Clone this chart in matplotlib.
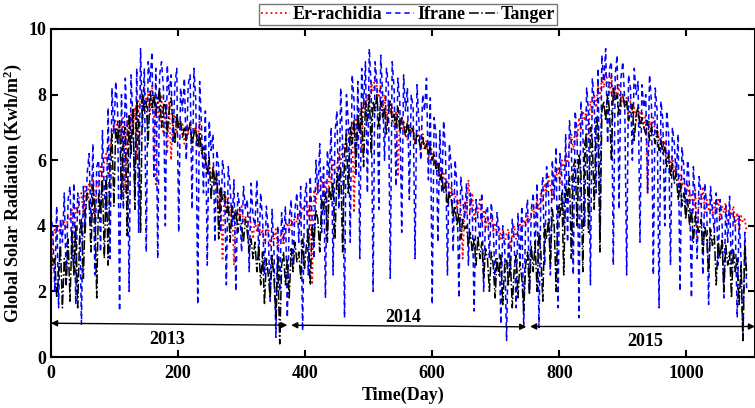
import numpy as np
import matplotlib
matplotlib.use("Agg")
import matplotlib.pyplot as plt

plt.rcParams['font.family'] = ['Liberation Serif', 'DejaVu Serif']
plt.rcParams['font.weight'] = 'bold'
plt.rcParams['mathtext.default'] = 'regular'

# day index (every 3rd day, 2013-2015)
days = list(range(0, 1096, 3))

er_rachidia = [
    2.1, 3.7, 3.9, 3.6, 4.0, 3.8, 4.2, 4.1, 3.9, 4.3,
    4.2, 4.5, 3.0, 4.6, 4.4, 4.9, 5.0, 4.3, 5.2, 4.8,
    5.3, 5.0, 5.6, 4.2, 5.4, 5.2, 5.8, 5.5, 6.0, 6.2,
    5.6, 6.4, 6.8, 7.0, 7.2, 6.9, 7.1, 6.6, 7.3, 5.0,
    7.2, 6.5, 7.4, 7.0, 7.6, 6.0, 7.8, 8.0, 7.5, 8.2,
    7.8, 8.0, 7.4, 8.3, 7.6, 5.2, 7.9, 7.2, 8.0, 6.8,
    7.5, 6.2, 7.8, 6.0, 7.3, 7.4, 6.8, 7.2, 6.9, 7.1,
    6.5, 7.0, 6.8, 7.2, 6.4, 6.9, 7.0, 6.6, 7.2, 6.3,
    6.0, 6.2, 5.6, 5.9, 5.4, 5.8, 5.2, 5.5, 4.4, 5.0,
    3.0, 5.1, 4.7, 4.9, 4.3, 4.6, 2.8, 4.4, 4.5, 4.2,
    4.6, 4.1, 4.3, 3.9, 4.4, 4.0, 3.6, 4.2, 3.8, 4.1,
    3.7, 3.9, 3.5, 3.8, 4.0, 3.4, 3.7, 3.6, 3.9, 3.3,
    3.6, 3.8, 3.4, 3.9, 4.1, 3.8, 4.2, 4.0, 4.3, 4.1,
    4.4, 4.2, 4.6, 4.5, 4.8, 4.3, 4.9, 2.2, 5.1, 4.7,
    5.3, 5.0, 5.5, 4.9, 5.4, 3.8, 5.7, 5.3, 6.0, 5.6,
    5.8, 6.2, 5.9, 6.5, 6.3, 6.8, 7.0, 6.6, 7.2, 4.4,
    7.3, 7.0, 7.6, 6.2, 7.8, 7.4, 8.0, 7.7, 8.4, 8.1,
    8.6, 8.2, 7.9, 8.3, 7.5, 8.0, 7.2, 7.8, 7.4, 7.6,
    7.0, 7.5, 5.5, 7.3, 6.9, 7.2, 7.0, 6.6, 7.1, 6.8,
    7.0, 6.5, 6.9, 6.7, 6.2, 6.8, 6.4, 6.6, 6.0, 6.5,
    6.2, 5.9, 6.0, 5.5, 5.8, 5.3, 5.6, 5.1, 5.4, 4.8,
    5.2, 4.9, 5.0, 4.5, 4.8, 4.6, 3.0, 4.7, 4.4, 5.4,
    4.5, 5.0, 4.2, 4.6, 4.4, 4.8, 4.1, 4.5, 3.9, 4.3,
    4.0, 4.4, 3.8, 4.1, 3.7, 4.0, 3.6, 3.9, 3.4, 3.8,
    3.9, 3.3, 3.7, 4.0, 3.6, 3.9, 4.1, 3.8, 4.2, 4.0,
    4.3, 4.1, 4.4, 4.6, 4.2, 4.8, 4.5, 5.0, 4.7, 5.3,
    5.0, 5.5, 5.2, 4.8, 5.6, 5.4, 5.8, 5.3, 6.0, 5.7,
    6.2, 5.9, 6.5, 6.8, 6.3, 7.0, 6.6, 7.3, 6.9, 7.5,
    7.2, 7.6, 6.8, 7.8, 7.4, 8.0, 7.6, 8.3, 7.9, 8.5,
    8.2, 8.7, 8.4, 8.0, 8.6, 7.8, 8.2, 7.9, 8.3, 7.6,
    8.0, 7.7, 7.9, 7.4, 7.8, 7.5, 7.6, 7.2, 7.7, 7.3,
    7.5, 7.0, 7.4, 5.0, 7.2, 6.9, 7.3, 6.8, 7.0, 6.6,
    6.8, 6.4, 6.6, 6.0, 6.3, 5.8, 6.1, 5.6, 5.9, 5.4,
    5.6, 5.2, 5.5, 4.9, 5.3, 4.7, 5.0, 4.5, 5.1, 3.6,
    4.9, 4.6, 5.2, 4.4, 4.8, 4.5, 5.0, 4.3, 4.7, 4.4,
    4.8, 4.2, 4.6, 4.4, 4.7, 4.1, 4.5, 4.3, 4.6, 4.0,
    4.4, 3.9, 4.3, 4.1, 4.2, 3.8,
]

ifrane = [
    4.4, 3.8, 2.0, 4.6, 1.5, 4.2, 3.5, 5.0, 2.3, 4.8,
    5.2, 3.0, 5.3, 1.6, 5.0, 4.5, 1.0, 5.2, 3.8, 5.6,
    6.2, 4.0, 6.5, 2.5, 5.8, 6.0, 3.2, 6.9, 5.0, 4.2,
    7.6, 3.0, 8.2, 6.8, 8.4, 7.5, 1.4, 8.0, 4.5, 8.5,
    7.0, 2.0, 8.6, 7.2, 5.0, 8.8, 3.8, 9.4, 7.0, 8.8,
    3.2, 9.0, 8.4, 9.3, 5.5, 8.8, 3.0, 8.6, 9.0, 8.2,
    4.0, 8.9, 8.0, 8.6, 6.5, 8.3, 8.8, 3.8, 8.2, 7.5,
    8.5, 6.0, 8.3, 8.6, 4.5, 8.8, 7.8, 1.6, 8.4, 7.0,
    5.0, 7.5, 2.8, 7.2, 6.3, 6.8, 3.5, 6.3, 5.8, 3.8,
    6.0, 5.5, 2.2, 5.8, 5.2, 4.0, 5.4, 2.0, 5.0, 4.6,
    3.2, 5.2, 4.5, 4.8, 2.6, 5.3, 4.3, 4.0, 5.4, 3.0,
    5.0, 4.2, 2.5, 4.6, 3.8, 1.7, 4.5, 3.2, 0.6, 4.0,
    2.0, 4.4, 3.5, 4.6, 1.2, 4.2, 4.8, 2.8, 4.5, 5.0,
    3.5, 5.2, 0.8, 4.8, 5.3, 2.5, 5.5, 4.2, 3.0, 6.0,
    5.0, 6.5, 3.8, 5.8, 1.8, 6.3, 5.5, 7.0, 2.5, 6.8,
    7.5, 4.5, 8.2, 6.5, 1.2, 8.0, 7.2, 3.5, 8.6, 7.8,
    5.5, 8.4, 3.0, 8.8, 7.6, 9.0, 5.0, 9.4, 8.2, 2.0,
    9.0, 8.4, 4.5, 9.2, 8.0, 6.0, 8.8, 8.3, 2.4, 9.0,
    8.2, 5.2, 8.5, 7.8, 3.8, 8.6, 7.5, 8.2, 4.8, 8.0,
    7.6, 3.0, 8.3, 7.2, 6.0, 8.0, 7.5, 8.5, 5.4, 7.9,
    1.6, 7.3, 6.8, 3.5, 6.9, 5.0, 7.2, 6.2, 2.5, 6.5,
    5.8, 3.2, 6.0, 5.2, 1.8, 5.5, 4.8, 4.2, 5.3, 2.8,
    5.0, 4.5, 1.4, 4.8, 4.2, 3.6, 5.0, 2.0, 4.4, 4.6,
    3.0, 4.7, 4.0, 2.2, 4.4, 3.8, 1.0, 4.0, 3.4, 0.5,
    3.8, 2.5, 4.2, 3.6, 1.5, 4.4, 2.8, 4.6, 0.9, 4.2,
    4.8, 2.0, 4.5, 5.0, 3.2, 5.3, 0.9, 4.8, 5.5, 2.8,
    5.8, 5.0, 2.5, 6.0, 4.8, 6.4, 1.5, 6.2, 5.5, 4.0,
    6.8, 3.5, 7.2, 6.5, 2.5, 7.5, 6.8, 1.2, 7.8, 7.0,
    4.0, 8.2, 7.5, 2.2, 8.5, 7.8, 5.0, 8.8, 3.8, 9.2,
    8.4, 9.4, 6.5, 8.8, 9.0, 2.8, 8.6, 9.2, 4.5, 8.5,
    9.0, 7.8, 2.5, 8.6, 8.2, 6.0, 8.8, 8.0, 8.4, 3.5,
    8.3, 7.6, 8.0, 5.0, 8.6, 7.8, 2.5, 8.2, 7.5, 1.5,
    7.8, 7.2, 4.0, 7.5, 6.8, 2.8, 7.0, 6.5, 5.5, 6.8,
    2.0, 6.4, 5.8, 4.5, 6.0, 5.2, 1.8, 5.8, 4.8, 3.0,
    5.5, 5.0, 2.5, 5.3, 4.6, 1.6, 5.2, 4.5, 3.8, 5.0,
    2.8, 4.8, 4.2, 1.8, 4.6, 3.5, 4.9, 2.5, 4.4, 4.0,
    1.2, 4.3, 3.0, 0.5, 3.8, 2.0,
]

tanger = [
    3.2, 2.8, 3.0, 1.8, 2.6, 3.4, 1.5, 3.0, 2.2, 3.6,
    1.7, 3.8, 2.5, 4.0, 1.5, 3.6, 4.2, 2.4, 4.5, 5.0,
    4.8, 3.2, 5.2, 4.6, 1.8, 5.0, 4.4, 5.4, 3.0, 5.5,
    2.8, 6.0, 6.8, 4.6, 7.0, 6.5, 7.2, 4.8, 6.8, 7.0,
    3.7, 7.4, 6.2, 7.6, 4.5, 7.8, 7.2, 3.8, 8.0, 7.5,
    7.8, 6.5, 8.1, 7.6, 8.0, 7.4, 7.8, 8.2, 7.0, 7.6,
    7.8, 6.8, 7.5, 7.9, 7.2, 6.5, 7.4, 7.0, 7.2, 6.7,
    7.0, 6.6, 6.9, 7.1, 6.5, 6.8, 7.0, 6.4, 6.8, 6.2,
    6.4, 6.0, 5.6, 6.1, 4.8, 5.8, 5.3, 5.6, 3.6, 5.2,
    4.8, 5.0, 4.4, 4.7, 3.5, 4.6, 4.2, 4.5, 3.8, 4.3,
    4.0, 3.5, 4.2, 3.8, 3.2, 3.6, 3.0, 3.5, 2.6, 3.4,
    2.2, 3.2, 1.6, 3.0, 2.5, 1.8, 3.1, 2.4, 1.2, 3.0,
    0.4, 2.8, 3.2, 2.2, 3.0, 1.8, 3.3, 2.6, 3.5, 2.9,
    3.2, 2.4, 3.6, 2.7, 3.4, 3.9, 2.2, 4.0, 3.5, 4.5,
    4.2, 3.2, 4.8, 4.5, 5.0, 3.5, 5.2, 4.8, 5.3, 3.6,
    5.6, 5.0, 5.8, 3.2, 6.2, 6.8, 5.0, 7.0, 6.5, 7.2,
    5.8, 7.4, 6.8, 7.6, 5.8, 7.8, 7.2, 8.0, 6.2, 7.8,
    7.5, 8.0, 7.0, 7.8, 7.3, 7.6, 6.8, 7.5, 7.8, 7.2,
    7.4, 7.0, 7.6, 6.9, 7.3, 7.1, 6.7, 7.2, 6.8, 7.0,
    6.9, 6.5, 6.8, 6.6, 6.4, 6.7, 6.3, 6.5, 6.2, 6.4,
    6.0, 6.2, 5.7, 5.9, 5.4, 5.6, 5.0, 5.3, 4.6, 5.0,
    4.8, 4.3, 4.6, 4.0, 4.4, 3.6, 4.2, 3.9, 4.0, 3.4,
    3.8, 3.2, 3.6, 2.8, 3.7, 3.0, 3.5, 2.4, 3.3, 3.0,
    2.0, 3.2, 2.8, 1.8, 3.0, 2.5, 3.1, 1.6, 2.8, 3.0,
    2.2, 3.0, 1.5, 2.7, 3.1, 1.8, 2.9, 2.4, 1.4, 2.8,
    3.2, 1.9, 3.4, 2.6, 3.5, 2.0, 3.8, 3.2, 1.7, 4.0,
    3.6, 4.2, 2.8, 4.5, 4.0, 2.0, 4.6, 4.3, 5.0, 2.5,
    5.2, 4.8, 5.5, 3.0, 5.8, 6.0, 4.0, 6.2, 5.7, 2.6,
    6.5, 6.8, 3.8, 7.0, 6.6, 4.5, 7.3, 7.0, 3.2, 7.5,
    7.8, 7.2, 8.0, 7.5, 6.0, 8.2, 7.8, 8.0, 7.4, 7.9,
    8.0, 7.6, 7.8, 7.2, 7.5, 7.7, 6.6, 7.4, 7.6, 7.0,
    7.3, 7.0, 6.8, 7.2, 6.6, 7.0, 6.8, 6.5, 6.9, 6.3,
    6.6, 6.2, 6.4, 5.8, 6.2, 5.5, 5.9, 5.3, 5.6, 4.8,
    5.3, 4.6, 5.0, 4.2, 4.8, 4.0, 4.5, 3.5, 4.3, 4.0,
    3.8, 4.2, 3.2, 4.0, 3.6, 2.6, 3.9, 3.4, 3.7, 2.2,
    3.5, 3.0, 3.6, 2.0, 3.4, 2.8, 3.2, 1.8, 3.3, 2.6,
    3.0, 1.6, 2.8, 0.5, 3.4, 2.5,
]

# year spans shown with double arrows
year_labels = ['2013', '2014', '2015']
year_spans = [(0, 372), (378, 748), (754, 1108)]
arrow_y = [(1.03, 0.97), (0.97, 0.92), (0.93, 0.93)]
label_pos = [(183, 0.52), (554, 1.19), (935, 0.46)]

fig = plt.figure(figsize=(7.55, 4.08), dpi=100)
ax = fig.add_axes([0.0675, 0.125, 0.9325, 0.804])

ax.plot(days, er_rachidia, color='red', linestyle=':', linewidth=1.3, label='Er-rachidia')
ax.plot(days, ifrane, color='blue', linestyle=(0, (3.5, 2.5)), linewidth=1.1, label='Ifrane')
ax.plot(days, tanger, color='black', linestyle='-.', linewidth=1.1, label='Tanger')

for (x0, x1), (y0, y1) in zip(year_spans, arrow_y):
    ax.annotate('', xy=(x1, y1), xytext=(x0, y0),
                arrowprops=dict(arrowstyle='<|-|>', color='black', lw=1.0,
                                mutation_scale=9, shrinkA=0, shrinkB=0))
for lab, (x, y) in zip(year_labels, label_pos):
    ax.text(x, y, lab, ha='center', va='center', fontsize=13, fontweight='bold')

ax.set_xlim(0, 1108)
ax.set_ylim(0, 10)
ax.set_xticks([0, 200, 400, 600, 800, 1000])
ax.set_yticks([0, 2, 4, 6, 8, 10])
ax.tick_params(direction='in', top=True, right=True, labelsize=13, width=1.5, length=5)
ax.tick_params(axis='x', pad=6)
for s in ax.spines.values():
    s.set_linewidth(1.5)

ax.set_xlabel('Time(Day)', fontsize=13, fontweight='bold', labelpad=3)
ax.set_ylabel('Global Solar Radiation (Kwh/m$^2$)', fontsize=13, fontweight='bold', labelpad=3)

leg = fig.legend(loc='upper center', bbox_to_anchor=(0.54, 0.99), ncol=3,
                 fontsize=13, frameon=True, fancybox=False, edgecolor='#555555',
                 handlelength=1.6, handletextpad=0.15, columnspacing=0.2,
                 borderpad=0.1, borderaxespad=0)
leg.get_frame().set_linewidth(1.0)

fig.savefig('out.png', dpi=100)
